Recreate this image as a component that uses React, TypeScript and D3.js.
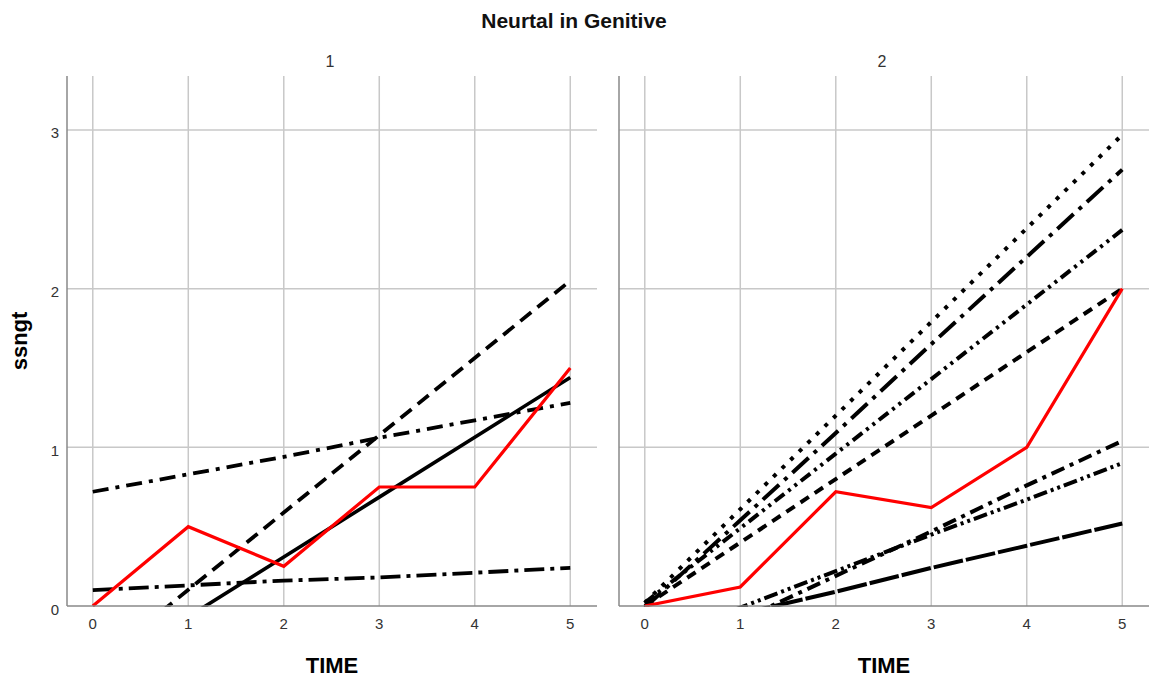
import React from "react";
import * as d3 from "d3";

const TIME = [0, 1, 2, 3, 4, 5];
const Y_TICKS = [0, 1, 2, 3];
const PANELS = ["1", "2"];

// Panel 1
const p1Observed = [0, 0.5, 0.25, 0.75, 0.75, 1.5];
const p1Solid = [-0.445, -0.068, 0.309, 0.686, 1.063, 1.44];
const p1Dashed = [-0.385, 0.102, 0.589, 1.076, 1.563, 2.05];
const p1DashDotHigh = [0.72, 0.83, 0.94, 1.06, 1.17, 1.28];
const p1DashDotLow = [0.1, 0.13, 0.16, 0.18, 0.21, 0.24];

// Panel 2
const p2Observed = [0, 0.12, 0.72, 0.62, 1.0, 2.0];
const p2Dotted = [0.02, 0.61, 1.2, 1.79, 2.38, 2.97];
const p2LongDashDot = [-0.01, 0.54, 1.09, 1.65, 2.2, 2.75];
const p2DashDotDot = [0.02, 0.49, 0.96, 1.43, 1.9, 2.37];
const p2Dashed = [0.0, 0.4, 0.8, 1.2, 1.6, 2.0];
const p2DashDotLow = [-0.38, -0.09, 0.19, 0.47, 0.76, 1.04];
const p2DashDotDotLow = [-0.24, -0.01, 0.22, 0.45, 0.67, 0.9];
const p2LongDash = [-0.19, -0.05, 0.09, 0.24, 0.38, 0.52];

type Series = { values: number[]; dash: string; color: string; width: number };

const panelSeries: Series[][] = [
  [
    { values: p1DashDotLow, dash: "20,6,4,6", color: "#000", width: 3.8 },
    { values: p1DashDotHigh, dash: "16,7,4,7", color: "#000", width: 3.8 },
    { values: p1Dashed, dash: "14,8", color: "#000", width: 3.8 },
    { values: p1Solid, dash: "none", color: "#000", width: 3.6 },
    { values: p1Observed, dash: "none", color: "#ff0000", width: 3.2 },
  ],
  [
    { values: p2Dotted, dash: "4,8", color: "#000", width: 4 },
    { values: p2LongDashDot, dash: "22,7,4,7", color: "#000", width: 4 },
    { values: p2DashDotDot, dash: "12,5,3,5,3,5", color: "#000", width: 4 },
    { values: p2Dashed, dash: "10,7", color: "#000", width: 4 },
    { values: p2DashDotLow, dash: "14,6,4,6", color: "#000", width: 4 },
    { values: p2DashDotDotLow, dash: "14,4,3,4,3,4", color: "#000", width: 4 },
    { values: p2LongDash, dash: "30,3", color: "#000", width: 4 },
    { values: p2Observed, dash: "none", color: "#ff0000", width: 3.2 },
  ],
];

const W = 1151;
const H = 677;
const panelLeft = [67, 619];
const panelWidth = 530;
const top = 76;
const bottom = 606;

export default function App() {
  const y = d3.scaleLinear().domain([0, 3.34]).range([bottom, top]);
  const font = "'Liberation Sans', Arial, sans-serif";
  return (
    <div style={{ position: "fixed", left: 0, top: 0 }}>
      <svg width={W} height={H} style={{ display: "block", background: "#fff" }}>
        <text x={574} y={28} textAnchor="middle" fontFamily={font} fontSize={21} fontWeight="bold" fill="#111">
          Neurtal in Genitive
        </text>
        <text
          transform={`translate(27,${(top + bottom) / 2}) rotate(-90)`}
          textAnchor="middle"
          fontFamily={font}
          fontSize={22}
          fontWeight="bold"
        >
          ssngt
        </text>
        {Y_TICKS.map((t) => (
          <text key={t} x={59} y={y(t) + 8.5} textAnchor="end" fontFamily={font} fontSize={15} fill="#333">
            {t}
          </text>
        ))}
        {PANELS.map((label, pi) => {
          const x0 = panelLeft[pi];
          const x = d3.scaleLinear().domain([-0.27, 5.28]).range([x0, x0 + panelWidth]);
          const line = d3
            .line<number>()
            .x((_, i) => x(TIME[i]))
            .y((v) => y(v));
          const clipId = `clip${pi}`;
          return (
            <g key={label}>
              <defs>
                <clipPath id={clipId}>
                  <rect x={x0} y={top} width={panelWidth} height={bottom - top + 1} />
                </clipPath>
              </defs>
              <text x={x0 + panelWidth / 2 - 2} y={67} textAnchor="middle" fontFamily={font} fontSize={16} fill="#333">
                {label}
              </text>
              {TIME.map((t) => (
                <line key={"gx" + t} x1={x(t)} x2={x(t)} y1={top} y2={bottom} stroke="#c8c8c8" strokeWidth={1.5} />
              ))}
              {Y_TICKS.filter((t) => t > 0).map((t) => (
                <line key={"gy" + t} x1={x0} x2={x0 + panelWidth} y1={y(t)} y2={y(t)} stroke="#c8c8c8" strokeWidth={1.5} />
              ))}
              <g clipPath={`url(#${clipId})`}>
                {panelSeries[pi].map((s, si) => (
                  <path
                    key={si}
                    d={line(s.values) || ""}
                    fill="none"
                    stroke={s.color}
                    strokeWidth={s.width}
                    strokeDasharray={s.dash}
                    strokeLinejoin="miter"
                  />
                ))}
              </g>
              <line x1={x0} x2={x0} y1={top} y2={bottom} stroke="#888" strokeWidth={1.5} />
              <line x1={x0} x2={x0 + panelWidth} y1={bottom} y2={bottom} stroke="#888" strokeWidth={1.5} />
              {TIME.map((t) => (
                <text key={"tx" + t} x={x(t)} y={629} textAnchor="middle" fontFamily={font} fontSize={15} fill="#333">
                  {t}
                </text>
              ))}
              <text x={x0 + panelWidth / 2} y={673} textAnchor="middle" fontFamily={font} fontSize={22} fontWeight="bold">
                TIME
              </text>
            </g>
          );
        })}
      </svg>
    </div>
  );
}
